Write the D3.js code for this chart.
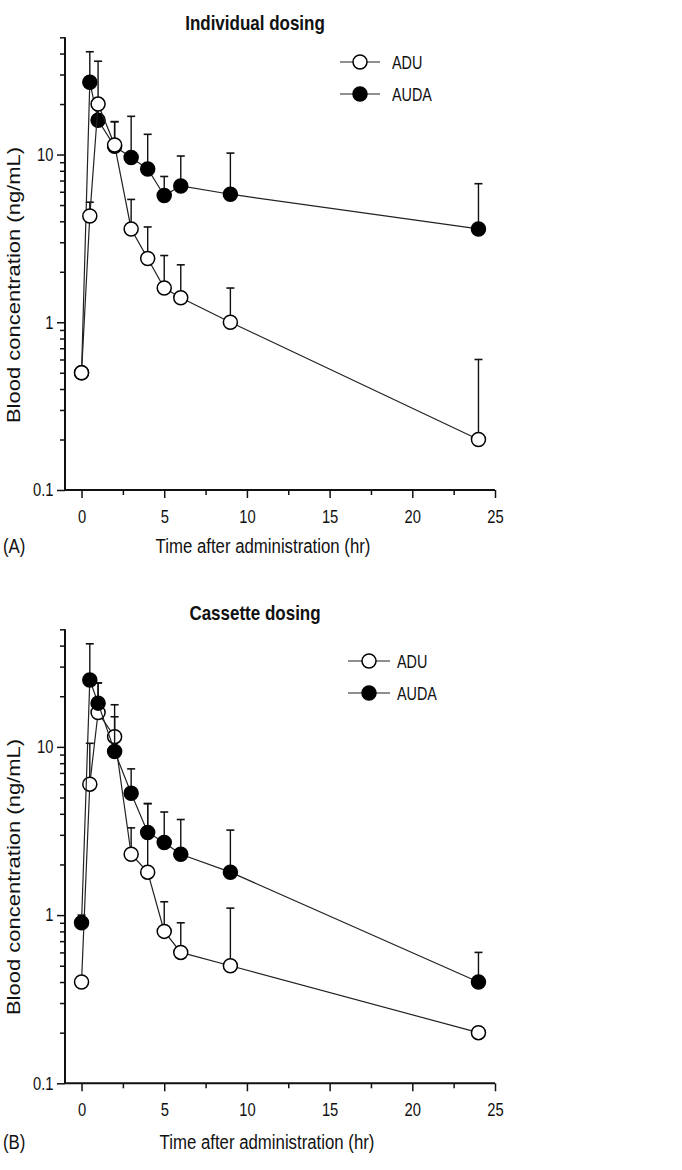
<!DOCTYPE html>
<html>
<head>
<meta charset="utf-8">
<script src="https://cdn.jsdelivr.net/npm/d3@7/dist/d3.min.js"></script>
<style>
  html, body { margin: 0; padding: 0; background: #fff; }
  svg { display: block; }
  text { font-family: "Liberation Sans", Arial, Helvetica, sans-serif; fill: #111; }
</style>
</head>
<body>
<script>
// ---------------- data ----------------
const times = [0, 0.5, 1, 2, 3, 4, 5, 6, 9, 24];

const aduIndividual      = [0.5, 4.3, 20, 11.4, 3.6, 2.4, 1.6, 1.4, 1.0, 0.2];
const aduIndividualUpper = [null, 5.2, 36, 15.7, 5.4, 3.7, 2.5, 2.2, 1.6, 0.6];
const audaIndividual      = [0.5, 27, 16, 11.2, 9.6, 8.2, 5.7, 6.5, 5.8, 3.6];
const audaIndividualUpper = [null, 41, 18.5, 15.7, 16.9, 13.2, 7.4, 9.8, 10.2, 6.7];

const aduCassette      = [0.4, 6.0, 16, 11.5, 2.3, 1.8, 0.8, 0.6, 0.5, 0.2];
const aduCassetteUpper = [null, 10.5, 24, 17.8, 3.3, 4.6, 1.2, 0.9, 1.1, null];
const audaCassette      = [0.9, 25, 18.2, 9.4, 5.3, 3.1, 2.7, 2.3, 1.8, 0.4];
const audaCassetteUpper = [1.0, 41, 24, 15.1, 7.4, 4.6, 4.1, 3.7, 3.2, 0.6];

const seriesNames = ["ADU", "AUDA"];
const xMajorTicks = [0, 5, 10, 15, 20, 25];
const xMinorTicks = [2.5, 7.5, 12.5, 17.5, 22.5];
const yMajorTicks = [0.1, 1, 10];
const yMinorTicks = [0.2,0.3,0.4,0.5,0.6,0.7,0.8,0.9,2,3,4,5,6,7,8,9,20,30,40,50];
const panelTitles = ["Individual dosing", "Cassette dosing"];
const panelLetters = ["(A)", "(B)"];
const xTitle = "Time after administration (hr)";
const yTitle = "Blood concentration (ng/mL)";

// ---------------- layout ----------------
const W = 682, H = 1170;
const SX = 0.8; // horizontal squeeze of the original figure's type

const svg = d3.select("body").append("svg").attr("width", W).attr("height", H);

const panels = [
  { title: panelTitles[0], letter: panelLetters[0], top: 37.3, bottom: 490, titleY: 30,
    xLabelX: 263, xLabelY: 553, yLabelY: 285, legX: [340, 360, 392], legY: [62, 94],
    adu: aduIndividual, aduU: aduIndividualUpper, auda: audaIndividual, audaU: audaIndividualUpper,
    aduOnTop: true },
  { title: panelTitles[1], letter: panelLetters[1], top: 629.3, bottom: 1083.3, titleY: 620,
    xLabelX: 267, xLabelY: 1149, yLabelY: 877, legX: [348, 369, 397], legY: [661, 693],
    adu: aduCassette, aduU: aduCassetteUpper, auda: audaCassette, audaU: audaCassetteUpper,
    aduOnTop: false }
];

function squeezeText(sel, s) {
  sel.each(function() {
    const t = d3.select(this);
    const x = +t.attr("x") || 0;
    t.attr("x", x / s).attr("transform", `scale(${s},1)`);
  });
}

panels.forEach(p => {
  const g = svg.append("g");
  const x = d3.scaleLinear().domain([-1, 25]).range([65, 495]);
  const y = d3.scaleLog().domain([0.1, 50]).range([p.bottom, p.top]);

  // title
  g.append("text")
    .attr("transform", `translate(255,${p.titleY}) scale(0.85,1)`)
    .attr("text-anchor", "middle")
    .style("font-size", "20px").style("font-weight", "bold")
    .text(p.title);

  // minor ticks
  const xMinor = g.append("g").attr("transform", `translate(0,${p.bottom})`)
    .call(d3.axisBottom(x).tickValues(xMinorTicks).tickSize(5).tickFormat(""));
  xMinor.select(".domain").remove();
  const yMinor = g.append("g").attr("transform", `translate(65,0)`)
    .call(d3.axisLeft(y).tickValues(yMinorTicks).tickSize(5).tickFormat(""));
  yMinor.select(".domain").remove();

  // major axes
  const xAx = g.append("g").attr("transform", `translate(0,${p.bottom})`)
    .call(d3.axisBottom(x).tickValues(xMajorTicks).tickSize(8).tickPadding(12).tickSizeOuter(0).tickFormat(d3.format("d")));
  const yAx = g.append("g").attr("transform", `translate(65,0)`)
    .call(d3.axisLeft(y).tickValues(yMajorTicks).tickSize(8).tickPadding(3.5).tickSizeOuter(0).tickFormat(d => d < 1 ? "0.1" : String(d)));

  [xMinor, yMinor, xAx, yAx].forEach(a => {
    a.selectAll("line").attr("stroke", "#111").attr("stroke-width", 1.5);
    a.selectAll(".domain").attr("stroke", "#111").attr("stroke-width", 2);
  });
  xAx.select(".domain").attr("d", `M65,0H495`);
  yAx.select(".domain").attr("d", `M0,${p.bottom}V${p.top}`);
  [xAx, yAx].forEach(a => a.selectAll("text")
    .style("font-size", "18px").attr("fill", "#111")
    .style("font-family", '"Liberation Sans", Arial, sans-serif'));
  squeezeText(xAx.selectAll("text"), 0.82);
  squeezeText(yAx.selectAll("text"), 0.82);

  // axis titles
  g.append("text")
    .attr("transform", `translate(${p.xLabelX},${p.xLabelY}) scale(${SX},1)`)
    .attr("text-anchor", "middle").style("font-size", "21px").text(xTitle);
  g.append("text")
    .attr("transform", `translate(3,${p.xLabelY}) scale(${SX},1)`)
    .attr("text-anchor", "start").style("font-size", "21px").text(p.letter);
  g.append("text")
    .attr("transform", `translate(19.5,${p.yLabelY}) scale(${SX},1) rotate(-90)`)
    .attr("text-anchor", "middle").style("font-size", "22px").text(yTitle);

  // series
  const mk = (vals, up) => times.map((t, i) => ({ t, v: vals[i], u: up[i] }));
  const adu = mk(p.adu, p.aduU), auda = mk(p.auda, p.audaU);
  const line = d3.line().x(d => x(d.t)).y(d => y(d.v));

  const drawSeries = (data, filled) => {
    const s = g.append("g");
    const eb = s.selectAll("g.eb").data(data.filter(d => d.u != null)).join("g");
    eb.append("line").attr("x1", d => x(d.t)).attr("x2", d => x(d.t))
      .attr("y1", d => y(d.v)).attr("y2", d => y(d.u))
      .attr("stroke", "#111").attr("stroke-width", 1.4);
    eb.append("line").attr("x1", d => x(d.t) - 4).attr("x2", d => x(d.t) + 4)
      .attr("y1", d => y(d.u)).attr("y2", d => y(d.u))
      .attr("stroke", "#111").attr("stroke-width", 1.6);
    s.append("path").datum(data).attr("d", line)
      .attr("fill", "none").attr("stroke", "#222").attr("stroke-width", 1.2);
    s.selectAll("circle").data(data).join("circle")
      .attr("cx", d => x(d.t)).attr("cy", d => y(d.v)).attr("r", 7)
      .attr("fill", filled ? "#000" : "#fff").attr("stroke", "#000").attr("stroke-width", 1.5);
  };
  if (p.aduOnTop) { drawSeries(auda, true); drawSeries(adu, false); }
  else { drawSeries(adu, false); drawSeries(auda, true); }

  // legend
  const leg = g.append("g");
  seriesNames.forEach((name, i) => {
    const ly = p.legY[i];
    leg.append("line").attr("x1", p.legX[0]).attr("x2", p.legX[1] + (p.legX[1] - p.legX[0]))
      .attr("y1", ly).attr("y2", ly).attr("stroke", "#222").attr("stroke-width", 1.2);
    leg.append("circle").attr("cx", p.legX[1]).attr("cy", ly).attr("r", 7)
      .attr("fill", i === 1 ? "#000" : "#fff").attr("stroke", "#000").attr("stroke-width", 1.5);
    leg.append("text").attr("transform", `translate(${p.legX[2]},${ly + 6.5}) scale(${SX},1)`)
      .style("font-size", "18px").text(name);
  });
});
</script>
</body>
</html>
